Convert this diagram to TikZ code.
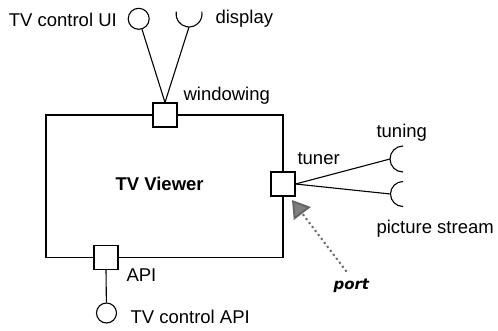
\documentclass[tikz,border=0pt]{standalone}
\usepackage{fontspec}
\setmainfont{Liberation Sans}
\newfontfamily\handfont{DejaVu Sans}
\usepackage{tikz}
\usetikzlibrary{arrows.meta,calc,positioning}

\begin{document}
\begin{tikzpicture}[x=1pt,y=-1pt,line width=1.1pt,
  portbox/.style={draw,fill=white,minimum size=24pt,inner sep=0pt},
  lollipop/.style={draw,circle,minimum size=21pt,inner sep=0pt},
  lbl/.style={anchor=base west,inner sep=0pt,font=\fontsize{18.5}{22}\selectfont},
  portline/.style={draw=black!60,line width=2pt,dash pattern=on 2pt off 3pt,
    -{Triangle[length=17pt,width=21pt,fill=black!50]}}]
  \useasboundingbox (0,0) rectangle (498,330);
  % component body
  \node[draw,minimum width=237pt,minimum height=142.5pt,inner sep=0pt] (comp) at (164.5,186.25) {};
  \node[lbl,font=\fontsize{18.5}{22}\selectfont\bfseries] (name) at (115,190.7) {TV Viewer};
  % ports on the border
  \node[portbox] (win) at (165,115) {};
  \node[portbox] (tuner) at (283,184) {};
  \node[portbox] (api) at (106,257.5) {};
  \node[lbl] (winl) at (183,100.7) {windowing};
  \node[lbl] (tunerl) at (297,164) {tuner};
  \node[lbl] (apil) at (126,281.7) {API};
  % provided interfaces
  \node[lollipop] (ui) at (138.7,18.8) {};
  \node[lollipop,minimum size=20pt] (apic) at (106.5,313) {};
  \node[lbl] (uil) at (8.3,26) {TV control UI};
  \node[lbl] (apicl) at (130,323.3) {TV control API};
  % required interfaces (sockets)
  \coordinate (dispc) at (189,27);
  \coordinate (tuningc) at (390,159);
  \coordinate (streamc) at (390.5,194);
  \draw (176.2,11.7) arc[start angle=190,end angle=-10,radius=13];
  \draw (403,146) arc[start angle=270,end angle=90,radius=13];
  \draw (403,181.5) arc[start angle=270,end angle=90,radius=12.5];
  \node[lbl] (displ) at (215,23.4) {display};
  \node[lbl] (tuningl) at (376,137.5) {tuning};
  \node[lbl] (streaml) at (376,233.3) {picture stream};
  % wiring
  \draw (ui) -- (win.north);
  \draw (dispc) -- (win.north);
  \draw (tuner.east) -- (tuningc);
  \draw (tuner.east) -- (streamc);
  \draw (api.south) -- (apic);
  % pointer to the port
  \node[lbl,font=\fontsize{15}{18}\handfont\bfseries\itshape] (port) at (333,289) {port};
  \coordinate (ptip) at (292,200);
  \draw[portline,shorten <=8pt] (port.north) -- (ptip);
\end{tikzpicture}
\end{document}
